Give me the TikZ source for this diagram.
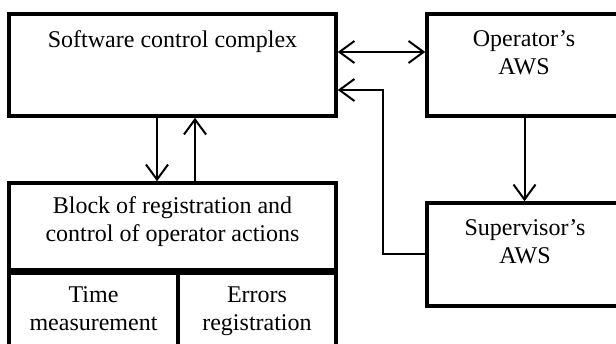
\documentclass[tikz,border=0pt]{standalone}
\usepackage{fontspec}
\setmainfont{Liberation Serif}
\usetikzlibrary{arrows.meta,positioning}

\begin{document}
\begin{tikzpicture}[x=1pt,y=-1pt,>={Straight Barb[length=15pt,width=22pt]},
  box/.style={draw,line width=3.5pt,rectangle,inner sep=0pt},
  txt/.style={align=center,inner sep=0pt,text depth=6pt,font=\fontsize{24}{28}\selectfont},
  conn/.style={line width=2pt}]
\clip (0,0) rectangle (616,344);
\node[box,minimum width=327pt,minimum height=102pt] (scc) at (172.5,65) {};
\node[box,minimum width=195pt,minimum height=102pt] (op) at (524.5,65) {};
\node[box,minimum width=195pt,minimum height=103pt] (sup) at (524.5,254.5) {};
\node[box,minimum width=327pt,minimum height=87pt] (blk) at (172.5,226.5) {};
\node[box,minimum width=169pt,minimum height=90pt,anchor=north west] (tm) at (blk.south west) {};
\node[box,minimum width=158pt,minimum height=90pt,anchor=north east] (er) at (blk.south east) {};
\node[txt] (sccText) at (172.5,42) {Software control complex};
\node[txt] (opText) at (524,56) {Operator’s\\AWS};
\node[txt] (supText) at (525,245) {Supervisor’s\\AWS};
\node[txt] (blkText) at (172.5,222) {Block of registration and\\control of operator actions};
\node[txt] (tmText) at (93.5,312) {Time\\measurement};
\node[txt] (erText) at (257,312) {Errors\\registration};
\coordinate (dn) at (157,0);
\coordinate (up) at (195,0);
\coordinate (link) at (0,52);
\coordinate (bend) at (383,90);
\draw[conn,->] (dn |- scc.south) -- (dn |- blk.north);
\draw[conn,->] (up |- blk.north) -- (up |- scc.south);
\draw[conn,<->] (scc.east |- link) -- (op.west |- link);
\draw[conn,->] (op.south) -- (sup.north);
\draw[conn,->] (sup.west) -| (bend) -- (scc.east |- bend);
\end{tikzpicture}
\end{document}
